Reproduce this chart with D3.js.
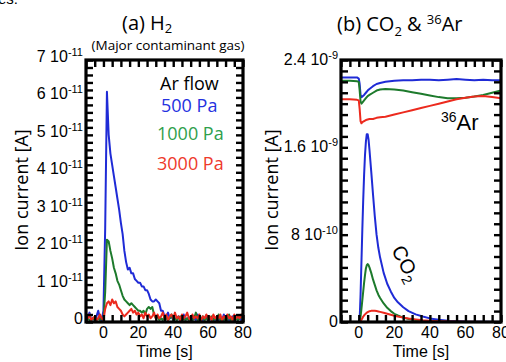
<!DOCTYPE html>
<html><head><meta charset="utf-8">
<script src="https://cdn.jsdelivr.net/npm/d3@7"></script>
<style>body{margin:0;background:#fff}svg{display:block}</style>
</head><body>
<script>
// ---------- DATA ----------
// Panel (a) H2, time every 1 s from -10 to 80, values in units of 1e-11 A
const timeA = d3.range(-10, 81, 1);
const h2_500 = [0.05,0.1,0.25,0.05,0.1,0.05,0.15,0.3,0.1,0.05,0.3,
 2.5,6.15,5.0,4.5,4.2,3.9,3.6,3.3,3.0,2.65,2.35,1.9,1.6,1.4,1.45,1.3,1.3,1.15,1.1,1.05,
 1.05,0.95,0.95,0.85,0.85,0.75,0.6,0.55,0.55,0.6,0.55,0.5,0.3,0.3,0.15,0.15,0.25,0.1,0.15,0.05,
 0.1,0.05,0.15,0.05,0.1,0.2,0.05,0.1,0.05,0.15,0.05,0.1,0.05,0.2,0.05,0.1,0.05,0.1,0.15,0.05,
 0.1,0.05,0.1,0.05,0.15,0.05,0.1,0.05,0.2,0.05,0.1,0.05,0.1,0.15,0.05,0.1,0.05,0.1,0.05,0.1];
const h2_1000 = [0.05,0.1,0.05,0.05,0.1,0.05,0.05,0.1,0.05,0.1,0.05,
 0.8,2.2,2.15,1.9,1.7,1.45,1.3,1.1,1.0,0.85,0.7,0.6,0.55,0.5,0.45,0.5,0.45,0.4,0.35,0.3,
 0.3,0.25,0.3,0.2,0.35,0.4,0.35,0.4,0.2,0.1,0.15,0.05,0.1,0.05,0.15,0.1,0.05,0.1,0.2,0.05,
 0.1,0.05,0.1,0.15,0.05,0.1,0.05,0.1,0.05,0.15,0.05,0.1,0.25,0.05,0.1,0.05,0.15,0.05,0.1,0.05,
 0.1,0.15,0.05,0.1,0.05,0.2,0.05,0.1,0.05,0.1,0.05,0.2,0.05,0.1,0.05,0.1,0.05,0.1,0.15,0.05];
const h2_3000 = [0.15,0.1,0.2,0.05,0.1,0.15,0.05,0.1,0.2,0.1,0.05,
 0.35,0.5,0.55,0.45,0.6,0.5,0.55,0.4,0.35,0.3,0.2,0.15,0.2,0.25,0.3,0.35,0.25,0.3,0.2,0.25,
 0.15,0.2,0.1,0.25,0.15,0.2,0.1,0.15,0.25,0.1,0.2,0.1,0.15,0.25,0.1,0.2,0.05,0.15,0.2,0.1,
 0.25,0.1,0.15,0.05,0.2,0.1,0.15,0.25,0.1,0.05,0.2,0.1,0.15,0.1,0.2,0.05,0.15,0.1,0.2,0.1,
 0.15,0.05,0.2,0.1,0.15,0.1,0.2,0.05,0.15,0.1,0.2,0.1,0.15,0.05,0.2,0.1,0.15,0.1,0.2,0.1];

// Panel (b) 36Ar, values in units of 1e-9 A
const timeAr = [-10,-5,-1,0,0.5,1,1.5,2,3,4,5,6,8,10,12,15,20,25,30,35,40,45,50,55,60,65,70,75,80];
const ar_500  = [2.24,2.24,2.24,2.23,2.18,2.08,2.06,2.065,2.08,2.1,2.12,2.135,2.16,2.18,2.19,2.2,2.21,2.215,2.215,2.22,2.22,2.215,2.22,2.225,2.22,2.215,2.22,2.215,2.215];
const ar_1000 = [2.21,2.21,2.205,2.2,2.12,2.02,2.0,2.01,2.03,2.05,2.07,2.08,2.1,2.12,2.13,2.135,2.13,2.12,2.105,2.09,2.075,2.06,2.05,2.05,2.055,2.065,2.08,2.1,2.12];
const ar_3000 = [2.04,2.04,2.035,2.03,1.95,1.84,1.82,1.83,1.84,1.85,1.855,1.86,1.86,1.87,1.875,1.88,1.9,1.92,1.94,1.96,1.98,2.0,2.02,2.04,2.055,2.065,2.07,2.06,2.05];

// Panel (b) CO2, values in units of 1e-9 A
const timeCO2 = [-10,-5,0,0.5,1,1.5,2,2.5,3,3.5,4,4.5,5,5.5,6,7,8,9,10,11,12,14,16,18,20,22,25,28,32,36,40,45,50,60,70,80];
const co2_500  = [0,0,0,0.03,0.25,0.55,0.85,1.12,1.35,1.53,1.65,1.72,1.72,1.67,1.58,1.38,1.17,0.97,0.8,0.68,0.59,0.45,0.35,0.28,0.22,0.18,0.135,0.1,0.07,0.05,0.033,0.02,0.012,0.005,0.002,0.001];
const co2_1000 = [0,0,0,0.01,0.05,0.12,0.2,0.28,0.36,0.43,0.49,0.52,0.53,0.52,0.5,0.45,0.39,0.34,0.29,0.25,0.22,0.17,0.13,0.1,0.075,0.06,0.04,0.028,0.018,0.012,0.008,0.005,0.003,0.001,0,0];
const co2_3000 = [0,0,0,0,0.01,0.02,0.035,0.05,0.06,0.07,0.078,0.085,0.09,0.095,0.098,0.102,0.104,0.103,0.1,0.097,0.093,0.085,0.076,0.067,0.058,0.05,0.04,0.032,0.024,0.017,0.012,0.008,0.005,0.002,0.001,0];

const xTickVals = [0,20,40,60,80];
const yTickA = [0,1,2,3,4,5,6,7];            // ×1e-11
const yTickB = [0,0.8,1.6,2.4];              // ×1e-9
const yLabelsA = ["0",["1 10","-11"],["2 10","-11"],["3 10","-11"],["4 10","-11"],["5 10","-11"],["6 10","-11"],["7 10","-11"]];
const yLabelsB = ["0",["8 10","-10"],["1.6 10","-9"],["2.4 10","-9"]];
const legendLabels = ["Ar flow","500 Pa","1000 Pa","3000 Pa"];

// ---------- STYLE ----------
const BLUE = "#1f2bd6", GREEN = "#1d7a2c", RED = "#ec2a1e";
const LBLUE = "#2431e0", LGREEN = "#2fa04c", LRED = "#ee3a2c";
const W = 506, H = 362;
const svg = d3.select("body").append("svg").attr("width", W).attr("height", H);
svg.append("rect").attr("width", W).attr("height", H).attr("fill", "#fff");
const TF = "'Liberation Sans', Arial, sans-serif";
const CF = "'Open Sans', 'Noto Sans', sans-serif";
const defs = svg.append("defs");

svg.append("text").attr("x", -2).attr("y", 4).attr("font-family", TF).attr("font-size", 15).text("es:");

function panel(opt) {
  const x = d3.scaleLinear().domain([-10, 80]).range(opt.xr);
  const y = d3.scaleLinear().domain(opt.yd).range([322, 60]);
  const id = "clip" + opt.id;
  defs.append("clipPath").attr("id", id).append("rect")
    .attr("x", opt.xr[0]).attr("y", 60).attr("width", opt.xr[1]-opt.xr[0]).attr("height", 262);
  const lg = svg.append("g").attr("clip-path", `url(#${id})`);
  opt.series.forEach(s => {
    const line = d3.line().x((d,i) => x(s.t[i])).y(d => y(d));
    lg.append("path").datum(s.v).attr("d", line).attr("fill", "none")
      .attr("stroke", s.c).attr("stroke-width", 2).attr("stroke-linejoin", "round");
  });
  // inward ticks via d3 axes
  const minorX = d3.range(-10, 81, 5);
  const TL = 7, TC = "#000";
  svg.append("g").attr("transform", "translate(0,322)")
    .call(d3.axisBottom(x).tickValues(minorX).tickSizeInner(-TL).tickSizeOuter(0).tickFormat(""))
    .selectAll(".tick line").attr("stroke", TC).attr("stroke-width", 2.4);
  svg.append("g").attr("transform", "translate(0,60)")
    .call(d3.axisTop(x).tickValues(minorX).tickSizeInner(-TL).tickSizeOuter(0).tickFormat(""))
    .selectAll(".tick line").attr("stroke", TC).attr("stroke-width", 2.4);
  svg.append("g").attr("transform", `translate(${opt.xr[0]},0)`)
    .call(d3.axisLeft(y).tickValues(opt.minorY).tickSizeInner(-TL).tickSizeOuter(0).tickFormat(""))
    .selectAll(".tick line").attr("stroke", TC).attr("stroke-width", 2.4);
  svg.append("g").attr("transform", `translate(${opt.xr[1]},0)`)
    .call(d3.axisRight(y).tickValues(opt.minorY).tickSizeInner(-TL).tickSizeOuter(0).tickFormat(""))
    .selectAll(".tick line").attr("stroke", TC).attr("stroke-width", 2.4);
  svg.append("rect").attr("x", opt.xr[0]).attr("y", 60).attr("width", opt.xr[1]-opt.xr[0]).attr("height", 262)
    .attr("fill", "none").attr("stroke", "#000").attr("stroke-width", 3.2);
  const g = svg.append("g");
  xTickVals.forEach(v => {
    g.append("text").attr("x", x(v)).attr("y", 338).attr("text-anchor", "middle")
      .attr("font-family", TF).attr("font-size", 16).text(v);
  });
  g.append("text").attr("x", (opt.xr[0]+opt.xr[1])/2).attr("y", 356.5).attr("text-anchor", "middle")
    .attr("font-family", TF).attr("font-size", 16).text("Time [s]");
  opt.yTicks.forEach((v, i) => {
    const lab = opt.yLabels[i];
    const t = g.append("text").attr("x", opt.xr[0] - 3).attr("y", y(v) + 5 + opt.yShift)
      .attr("text-anchor", "end").attr("font-family", TF).attr("font-size", 16);
    if (typeof lab === "string") t.text(lab);
    else {
      t.append("tspan").text(lab[0]);
      t.append("tspan").attr("dy", -6).attr("font-size", 11).text(lab[1]);
    }
  });
  g.append("text").attr("transform", `translate(${opt.ytx},190) rotate(-90)`).attr("text-anchor", "middle")
    .attr("font-family", CF).attr("font-size", 18).text("Ion current [A]");
  return {x, y};
}

panel({
  id: "a", xr: [86, 243], yd: [0, 7], yTicks: yTickA, yLabels: yLabelsA, yShift: -3,
  minorY: d3.range(0, 36).map(i => i * 0.2), ytx: 28,
  series: [{t: timeA, v: h2_500, c: BLUE}, {t: timeA, v: h2_1000, c: GREEN}, {t: timeA, v: h2_3000, c: RED}]
});
panel({
  id: "b", xr: [341, 501], yd: [0, 2.4], yTicks: yTickB, yLabels: yLabelsB, yShift: 0,
  minorY: d3.range(0, 25).map(i => i * 0.1), ytx: 278,
  series: [{t: timeAr, v: ar_500, c: BLUE}, {t: timeAr, v: ar_1000, c: GREEN}, {t: timeAr, v: ar_3000, c: RED},
           {t: timeCO2, v: co2_500, c: BLUE}, {t: timeCO2, v: co2_1000, c: GREEN}, {t: timeCO2, v: co2_3000, c: RED}]
});

// titles
const ta = svg.append("text").attr("x", 122).attr("y", 30).attr("font-family", CF).attr("font-size", 20);
ta.append("tspan").text("(a) H");
ta.append("tspan").attr("dy", 3).attr("font-size", 13).text("2");
svg.append("text").attr("x", 168).attr("y", 50).attr("text-anchor", "middle").attr("font-family", CF)
  .attr("font-size", 13.5).text("(Major contaminant gas)");
const tb = svg.append("text").attr("x", 337).attr("y", 31).attr("font-family", CF).attr("font-size", 20);
tb.append("tspan").text("(b) CO");
tb.append("tspan").attr("dy", 5).attr("font-size", 13).text("2");
tb.append("tspan").attr("dy", -5).text(" & ");
tb.append("tspan").attr("dy", -7).attr("font-size", 13).text("36");
tb.append("tspan").attr("dy", 7).text("Ar");

const legColors = ["#000", LBLUE, LGREEN, LRED];
const legX = [160, 161, 157, 157], legY = [90, 112, 140, 170];
legendLabels.forEach((l, i) => {
  svg.append("text").attr("x", legX[i]).attr("y", legY[i]).attr("font-family", CF).attr("font-size", 18)
    .attr("fill", legColors[i]).text(l);
});

const ar = svg.append("text").attr("x", 441).attr("y", 130).attr("font-family", TF).attr("font-size", 22);
ar.append("tspan").attr("font-size", 14).attr("dy", -8).text("36");
ar.append("tspan").attr("dy", 8).text("Ar");
const co = svg.append("text").attr("transform", "translate(391,250) rotate(62)").attr("font-family", TF).attr("font-size", 20);
co.append("tspan").text("CO");
co.append("tspan").attr("dy", 5).attr("font-size", 14).text("2");
</script>
</body></html>
